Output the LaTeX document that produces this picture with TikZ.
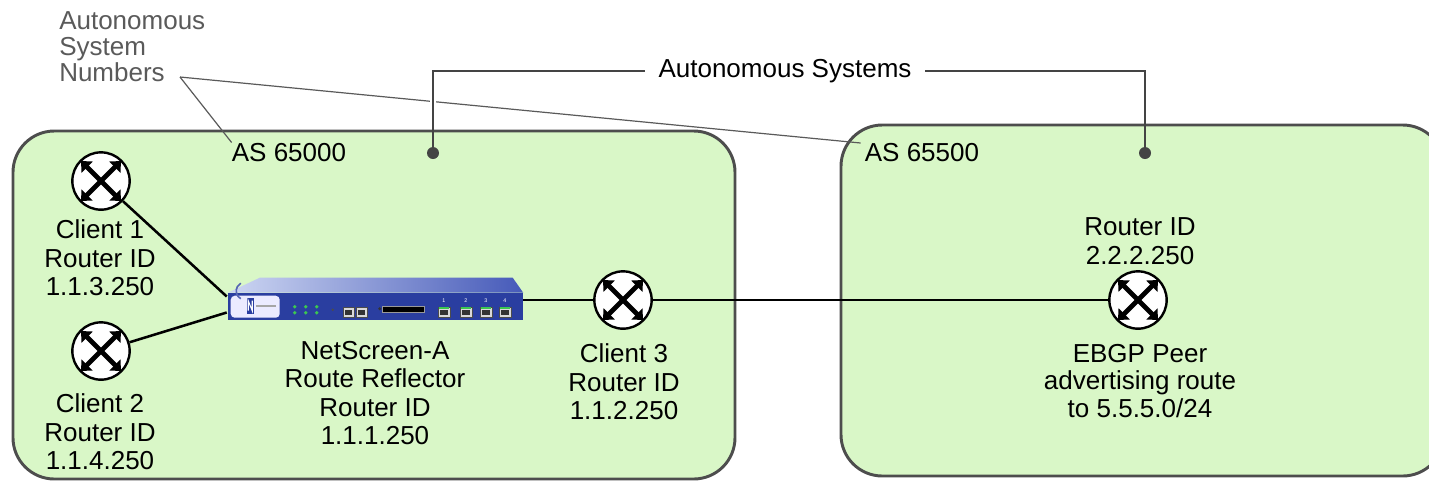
\documentclass[tikz,border=0pt]{standalone}
\usepackage{fontspec}
\setmainfont{Liberation Sans}
\usetikzlibrary{calc,arrows.meta}

\definecolor{asfill}{RGB}{217,247,199}
\definecolor{asline}{RGB}{77,77,77}
\definecolor{calloutgray}{RGB}{68,68,68}
\definecolor{notegray}{RGB}{90,90,90}
\definecolor{nsblue}{RGB}{42,62,160}
\definecolor{nstop}{RGB}{70,90,185}
\definecolor{nslight}{RGB}{205,214,242}
\definecolor{ledgreen}{RGB}{60,200,80}

\tikzset{
  asbox/.style={draw=asline, line width=2.2pt, fill=asfill, rounded corners=31pt},
  xarrow/.style={line width=3.6pt, {Triangle[length=6.5pt,width=11.5pt]}-{Triangle[length=6.5pt,width=11.5pt]}},
  router/.style={circle, draw=black, line width=1.8pt, fill=white, minimum size=43pt, inner sep=0pt,
    path picture={
      \fill[black!12] ($(path picture bounding box.center)+(0,-21.5pt)$) arc[start angle=270, end angle=360, radius=21.5pt]
        arc[start angle=0, end angle=-90, radius=21.5pt] -- cycle;
      \draw[xarrow] ($(path picture bounding box.center)+(-15pt,-15pt)$) -- ($(path picture bounding box.center)+(15pt,15pt)$);
      \draw[xarrow] ($(path picture bounding box.center)+(-15pt,15pt)$) -- ($(path picture bounding box.center)+(15pt,-15pt)$);
    }},
  link/.style={draw=black, line width=1.9pt},
  txt/.style={align=center, inner sep=0pt},
  callout/.style={draw=calloutgray, line width=1.5pt},
  pointer/.style={draw=notegray, line width=0.9pt},
  dotmark/.style={circle, fill=calloutgray, inner sep=0pt, minimum size=9pt},
  port/.style={fill=black!15, draw=black!70, line width=0.3pt},
}

\begin{document}
\begin{tikzpicture}[x=0.75pt, y=-0.75pt, font=\fontsize{19.5pt}{21.4pt}\selectfont]
  \useasboundingbox (0,0) rectangle (1429,480);
  \clip (0,0) rectangle (1429,480);
  \fill[white] (0,0) rectangle (1429,480);

  % the two autonomous systems
  \draw[asbox] (13,131) rectangle (735,479);
  \draw[asbox] (841,125) rectangle (1444,476);

  % routers
  \node[router] (c1) at (101,181) {};
  \node[router] (c2) at (101,351) {};
  \node[router] (c3) at (623,300) {};
  \node[router] (peer) at (1138,300) {};

  % NetScreen-A front panel
  \node[fill=nsblue, minimum width=221.25pt, minimum height=20.25pt, inner sep=0pt] (ns) at (375.5,306.5) {};
  \shade[left color=nslight, right color=nstop] (ns.north west) -- ++(32,-15) -- ++(253,0) -- (ns.north east) -- cycle;
  \begin{scope}[shift={(ns.north west)}]
    % logo panel
    \fill[white!92!blue, rounded corners=3pt] (3,3) rectangle (52,25);
    \draw[nsblue!80, line width=1.2pt] (13,6) arc[start angle=120, end angle=240, radius=9];
    \fill[nsblue] (19,5) rectangle (26,21);
    \draw[white, line width=0.8pt] (20.5,18) -- (20.5,8) -- (24.5,18) -- (24.5,8);
    \fill[black!35] (28,12) rectangle (48,14);
    % status LEDs
    \foreach \lx in {67,78,89} {
      \fill[ledgreen] (\lx,14) circle (1.4pt);
      \fill[ledgreen] (\lx,20) circle (1.4pt);
    }
    \fill[black!70] (105,17) circle (1.1pt);
    % console and modem ports
    \foreach \px in {115,128} {
      \draw[port] (\px,14) rectangle ++(11,10);
      \fill[black!80] (\px+2,17) rectangle ++(7,5);
    }
    % PC card slot
    \fill[black!80] (152,16) circle (1.2pt);
    \draw[fill=black, draw=black!40, line width=0.4pt] (155,14) rectangle (197,20);
    % ethernet ports
    \foreach \px/\pn in {210/1,232/2,252/3,271/4} {
      \draw[port] (\px,14) rectangle ++(12,10);
      \fill[black!80] (\px+2,17) rectangle ++(8,5);
      \fill[ledgreen] (\px+1,14.5) rectangle ++(10,1.8);
      \node[white, font=\fontsize{4pt}{4pt}\selectfont, inner sep=0pt] (ep\pn) at (\px+6,8) {\pn};
    }
  \end{scope}

  % links
  \draw[link] (c1) -- ($(ns.west)+(-1,-10)$);
  \draw[link] (c2) -- ($(ns.west)+(-1,6)$);
  \draw[link] (c3) -- (c3 -| ns.east);
  \draw[link] (c3) -- (peer);

  % labels
  \node[txt] (as1) at (289,153) {AS 65000};
  \node[txt] (as2) at (922,153) {AS 65500};
  \node[txt] (c1lbl) at (100,258) {Client 1\\Router ID\\1.1.3.250};
  \node[txt] (c2lbl) at (100,432) {Client 2\\Router ID\\1.1.4.250};
  \node[txt] (nslbl) at (375,393) {NetScreen-A\\Route Reflector\\Router ID\\1.1.1.250};
  \node[txt] (c3lbl) at (624,382) {Client 3\\Router ID\\1.1.2.250};
  \node[txt] (peerid) at (1140,241) {Router ID\\2.2.2.250};
  \node[txt, font=\fontsize{19.5pt}{20.3pt}\selectfont] (peerlbl) at (1140,381) {EBGP Peer\\advertising route\\to 5.5.5.0/24};

  % callout for the AS numbers
  \node[txt, align=left, anchor=west, text=notegray, font=\fontsize{19.5pt}{19.5pt}\selectfont] (asn) at (59,47) {Autonomous\\System\\Numbers};
  \coordinate (asnp) at (180,77);
  \draw[pointer] (asnp) -- ($(as1.north west)+(0,-1)$);
  \draw[pointer] (asnp) -- ($(as2.west)+(-4,-10)$);

  % callout for the autonomous systems
  \node[txt, inner sep=10pt] (asys) at (785,71) {Autonomous Systems};
  \node[dotmark] (d1) at (433,153) {};
  \node[dotmark] (d2) at (1145,153) {};
  \draw[white, line width=5pt] ($(d1)+(0,-46)$) -- ($(d1)+(0,-57)$);
  \draw[callout] (d1) |- (asys.west);
  \draw[callout] (asys.east) -| (d2);
\end{tikzpicture}
\end{document}
